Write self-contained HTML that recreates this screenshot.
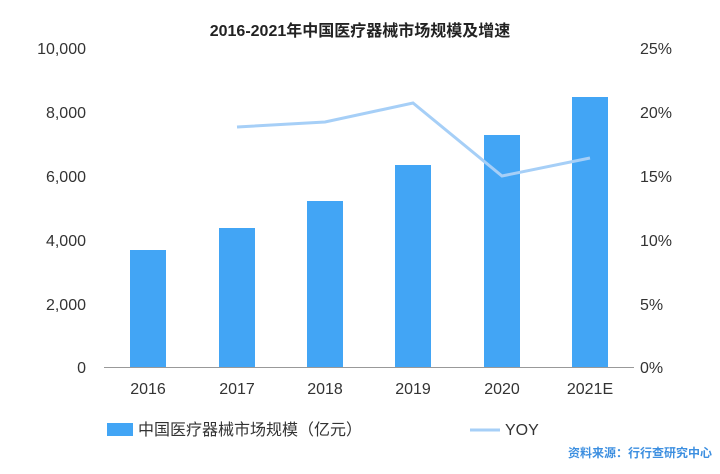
<!DOCTYPE html>
<html><head><meta charset="utf-8"><style>
body{margin:0;background:#fff;}
svg{display:block;font-family:"Liberation Sans","Noto Sans CJK SC",sans-serif;}
</style></head><body>
<svg width="720" height="474" viewBox="0 0 720 474">
<text x="360" y="36" text-anchor="middle" font-size="16" font-weight="bold" fill="#222">2016-2021年中国医疗器械市场规模及增速</text>
<g font-size="16" fill="#333" text-anchor="end">
<text x="86" y="54">10,000</text>
<text x="86" y="118">8,000</text>
<text x="86" y="182">6,000</text>
<text x="86" y="246">4,000</text>
<text x="86" y="310">2,000</text>
<text x="86" y="373">0</text>
</g>
<g font-size="16" fill="#333" text-anchor="start">
<text x="640" y="54">25%</text>
<text x="640" y="118">20%</text>
<text x="640" y="182">15%</text>
<text x="640" y="246">10%</text>
<text x="640" y="310">5%</text>
<text x="640" y="373">0%</text>
</g>
<g fill="#42a5f5">
<rect x="130" y="250" width="36" height="117"/>
<rect x="219" y="228" width="36" height="139"/>
<rect x="307" y="201" width="36" height="166"/>
<rect x="395" y="165" width="36" height="202"/>
<rect x="484" y="135" width="36" height="232"/>
<rect x="572" y="97" width="36" height="270"/>
</g>
<line x1="104" y1="367.5" x2="634" y2="367.5" stroke="#999" stroke-width="1"/>
<polyline points="237,127 325,122 413,103 502,176 590,158" fill="none" stroke="#a6cff7" stroke-width="3"/>
<g font-size="16" fill="#333" text-anchor="middle">
<text x="148" y="394">2016</text>
<text x="237" y="394">2017</text>
<text x="325" y="394">2018</text>
<text x="413" y="394">2019</text>
<text x="502" y="394">2020</text>
<text x="590" y="394">2021E</text>
</g>
<rect x="107" y="423" width="26" height="13" fill="#42a5f5"/>
<text x="138" y="435" font-size="16" fill="#333">中国医疗器械市场规模（亿元）</text>
<line x1="470" y1="430" x2="500" y2="430" stroke="#a6cff7" stroke-width="3"/>
<text x="505" y="435" font-size="16" fill="#333">YOY</text>
<text x="712" y="457" text-anchor="end" font-size="12" font-weight="bold" fill="#3d8fe0">资料来源：行行查研究中心</text>
</svg>
</body></html>
